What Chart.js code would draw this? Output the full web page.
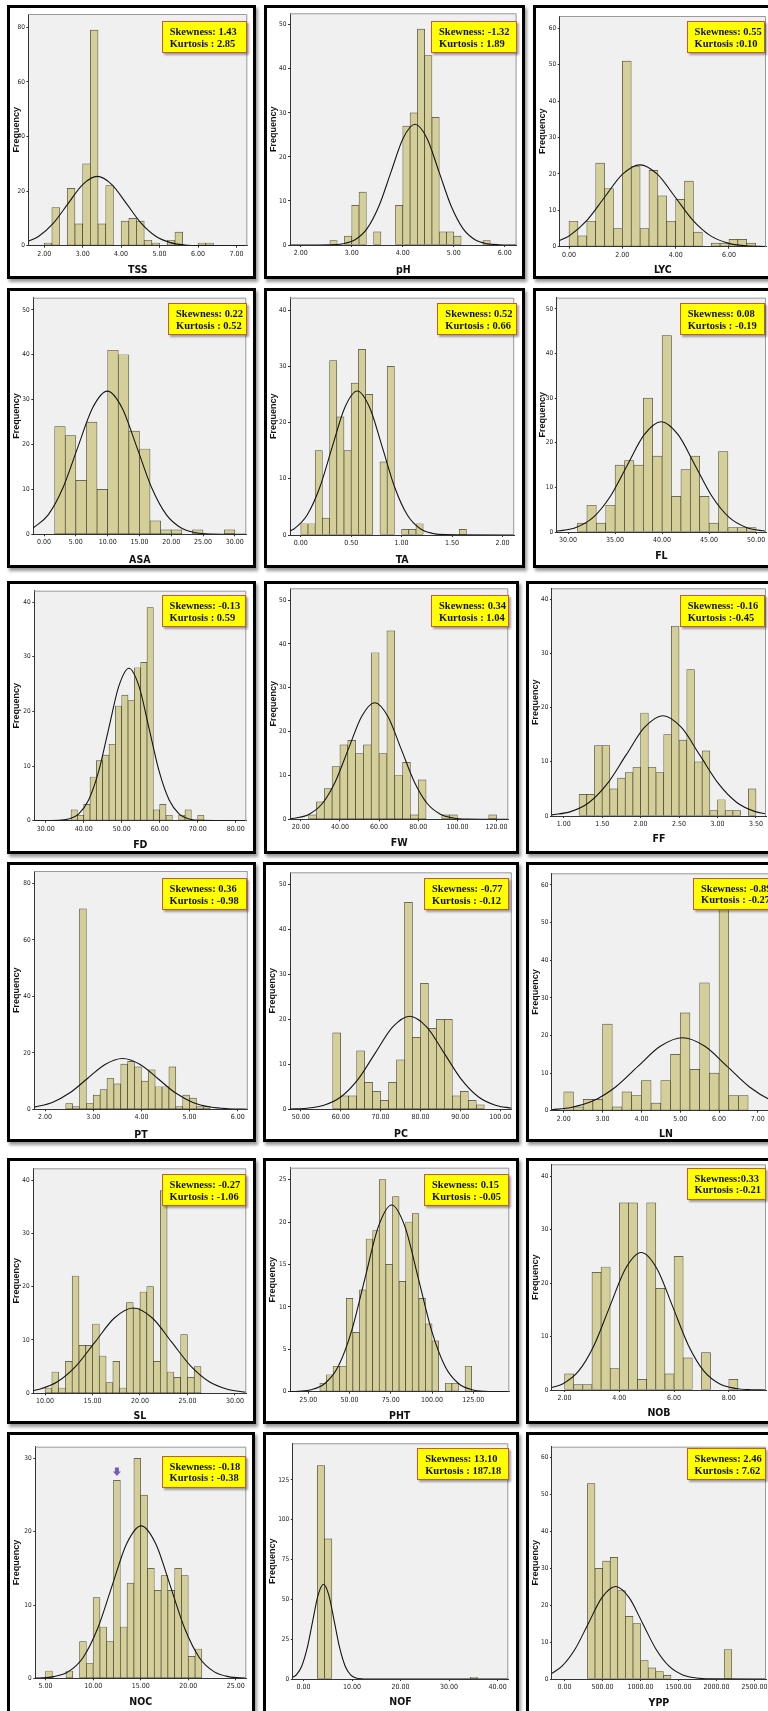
<!DOCTYPE html>
<html>
<head>
<meta charset="utf-8">
<script src="https://cdn.jsdelivr.net/npm/chart.js@4.4.0/dist/chart.umd.min.js"></script>
<style>
  html, body { margin: 0; padding: 0; background: #fff; width: 768px; height: 1711px; overflow: hidden; }
  #page { position: relative; width: 768px; height: 1711px; overflow: hidden; }
  .frame { position: absolute; box-sizing: border-box; border: 3px solid #000; background: #fff;
           box-shadow: 2px 3px 3px rgba(0,0,0,0.4); }
  .frame canvas { position: absolute; left: 0; top: 0; }
  .stat { position: absolute; box-sizing: border-box; height: 32px; background: #ffff00;
          border: 1.5px solid #c9573c; box-shadow: 1.5px 2px 2px rgba(0,0,0,0.35);
          padding: 4px 0 0 7px; font: bold 10.5px/11.6px "Liberation Serif", "Times New Roman", serif;
          color: #111; white-space: nowrap; overflow: hidden; z-index: 5; }
</style>
</head>
<body>
<div id="page"></div>
<script>
// variable names (x axis titles)
var names = ['TSS', 'pH', 'LYC', 'ASA', 'TA', 'FL', 'FD', 'FW', 'FF',
             'PT', 'PC', 'LN', 'SL', 'PHT', 'NOB', 'NOC', 'NOF', 'YPP'];

var skewText = ['Skewness: 1.43', 'Skewness: -1.32', 'Skewness: 0.55',
                'Skewness: 0.22', 'Skewness: 0.52', 'Skewness: 0.08',
                'Skewness: -0.13', 'Skewness: 0.34', 'Skewness: -0.16',
                'Skewness: 0.36', 'Skewness: -0.77', 'Skewness: -0.89',
                'Skewness: -0.27', 'Skewness: 0.15', 'Skewness:0.33',
                'Skewness: -0.18', 'Skewness: 13.10', 'Skewness: 2.46'];
var kurtText = ['Kurtosis : 2.85', 'Kurtosis : 1.89', 'Kurtosis :0.10',
                'Kurtosis : 0.52', 'Kurtosis : 0.66', 'Kurtosis : -0.19',
                'Kurtosis : 0.59', 'Kurtosis : 1.04', 'Kurtosis :-0.45',
                'Kurtosis : -0.98', 'Kurtosis : -0.12', 'Kurtosis : -0.27',
                'Kurtosis : -1.06', 'Kurtosis : -0.05', 'Kurtosis :-0.21',
                'Kurtosis : -0.38', 'Kurtosis : 187.18', 'Kurtosis : 7.62'];

// histogram bins: first bin edge, bin width, frequencies
var binStart = [2.0, 18 / 7, 0, 5 / 3, 0, 31, 110 / 3, 24, 1.2,
                17 / 7, 58, 2, 10, 32, 2, 5, 2.833, 300];
var binWidth = [0.2, 1 / 7, 1 / 3, 5 / 3, 1 / 14, 1, 5 / 3, 4, 0.1,
                1 / 7, 2, 0.25, 5 / 7, 4, 1 / 3, 5 / 7, 1.5, 100];

var countsTSS = [1, 14, 0, 21, 8, 30, 79, 8, 22, 0, 9, 10, 9, 2, 1, 0, 2, 5, 0, 0, 1, 1];
var countsPH  = [1, 0, 2, 9, 12, 0, 3, 0, 0, 9, 27, 30, 49, 43, 29, 3, 3, 2, 0, 0, 0, 1];
var countsLYC = [7, 3, 7, 23, 16, 5, 51, 22, 5, 21, 14, 7, 13, 18, 4, 0, 1, 1, 2, 2, 1];
var countsASA = [24, 22, 12, 25, 10, 41, 40, 23, 19, 3, 1, 1, 0, 1, 0, 0, 1];
var countsTA  = [2, 2, 15, 3, 31, 21, 15, 27, 33, 25, 0, 13, 30, 0, 1, 1, 2, 0, 0, 0, 0, 0, 1];
var countsFL  = [2, 6, 2, 6, 15, 16, 15, 30, 17, 44, 8, 14, 17, 8, 2, 18, 1, 1, 1];
var countsFD  = [2, 1, 3, 8, 11, 12, 14, 21, 23, 22, 28, 29, 39, 2, 3, 1, 0, 1, 2, 0, 1];
var countsFW  = [1, 4, 7, 12, 17, 18, 15, 17, 38, 15, 43, 10, 13, 1, 9, 0, 0, 1, 1, 0, 0, 0, 0, 1];
var countsFF  = [4, 4, 13, 13, 5, 7, 8, 9, 19, 9, 8, 15, 35, 14, 27, 10, 12, 1, 3, 1, 1, 0, 5];
var countsPT  = [2, 1, 71, 2, 5, 7, 11, 9, 16, 17, 15, 10, 14, 8, 8, 15, 1, 5, 4, 1, 1];
var countsPC  = [17, 3, 3, 13, 6, 4, 2, 6, 11, 46, 16, 28, 18, 20, 20, 3, 4, 2, 1];
var countsLN  = [5, 1, 3, 3, 23, 1, 5, 4, 8, 2, 8, 15, 26, 11, 34, 10, 56, 4, 4];
var countsSL  = [1, 4, 1, 6, 22, 9, 9, 13, 7, 2, 6, 1, 17, 16, 19, 20, 6, 38, 4, 3, 11, 3, 5];
var countsPHT = [1, 2, 3, 3, 11, 7, 12, 18, 19, 25, 15, 23, 13, 20, 21, 11, 8, 6, 0, 1, 1, 0, 3];
var countsNOB = [3, 1, 1, 22, 23, 4, 35, 35, 2, 35, 19, 3, 25, 6, 0, 7, 0, 0, 2];
var countsNOC = [1, 0, 0, 1, 0, 5, 2, 11, 7, 5, 27, 7, 13, 30, 25, 15, 12, 14, 12, 15, 14, 3, 4];
var countsNOF = [134, 88, 0, 0, 0, 0, 0, 0, 0, 0, 0, 0, 0, 0, 0, 0, 0, 0, 0, 0, 0, 1];
var countsYPP = [53, 30, 32, 33, 24, 17, 15, 5, 3, 2, 1, 0, 0, 0, 0, 0, 0, 0, 8];
var counts = [countsTSS, countsPH, countsLYC, countsASA, countsTA, countsFL, countsFD, countsFW, countsFF,
              countsPT, countsPC, countsLN, countsSL, countsPHT, countsNOB, countsNOC, countsNOF, countsYPP];

// normal curves
var curveX = [
  [1.59, 1.86, 2.24, 2.62, 3.00, 3.38, 3.76, 4.14, 4.52, 4.90, 5.28, 5.66, 6.04, 7.28],
  [1.79, 2.595, 2.83, 3.065, 3.30, 3.535, 3.77, 4.005, 4.24, 4.475, 4.71, 4.945, 5.18, 5.415, 5.65, 5.885, 6.23],
  [-0.35, 0.02, 0.68, 1.34, 2.00, 2.66, 3.32, 3.98, 4.64, 5.30, 5.96, 6.62, 7.39],
  [-1.69, 0.65, 2.975, 5.30, 7.625, 9.95, 12.275, 14.6, 16.925, 19.25, 21.575, 23.9, 26.225, 31.8],
  [-0.107, -0.065, 0.06, 0.185, 0.31, 0.435, 0.56, 0.685, 0.81, 0.935, 1.06, 1.185, 1.31, 1.435, 2.117],
  [28.8, 29.1, 30.9, 32.7, 34.5, 36.3, 38.1, 39.9, 41.7, 43.5, 45.3, 47.1, 48.9, 50.7, 51.05],
  [27.0, 33.35, 36.0, 38.65, 41.3, 43.95, 46.6, 49.25, 51.9, 54.55, 57.2, 59.85, 62.5, 65.15, 67.8, 70.45, 82.8],
  [14.5, 17.6, 24.3, 31.0, 37.7, 44.4, 51.1, 57.8, 64.5, 71.2, 77.9, 84.6, 91.3, 98.0, 104.7, 126],
  [0.847, 1.09, 1.33, 1.57, 1.81, 2.05, 2.29, 2.53, 2.77, 3.01, 3.25, 3.49, 3.63],
  [1.776, 2.15, 2.515, 2.88, 3.245, 3.61, 3.975, 4.34, 4.705, 5.07, 5.435, 5.80, 6.21],
  [47.3, 51.5, 55.8, 60.1, 64.4, 68.7, 73.0, 77.3, 81.6, 85.9, 90.2, 94.5, 98.8, 102.9],
  [1.695, 2.185, 2.76, 3.335, 3.91, 4.485, 5.06, 5.635, 6.21, 6.785, 7.36, 7.57],
  [8.76, 9.3, 11.3, 13.3, 15.3, 17.3, 19.3, 21.3, 23.3, 25.3, 27.3, 29.3, 31.2],
  [13.9, 18.8, 26.9, 35.0, 43.1, 51.2, 59.3, 67.4, 75.5, 83.6, 91.7, 99.8, 107.9, 116.0, 124.1, 132.2, 146.8],
  [1.536, 1.925, 2.50, 3.075, 3.65, 4.225, 4.80, 5.375, 5.95, 6.525, 7.10, 7.675, 8.25, 8.825, 9.36],
  [3.92, 4.34, 5.87, 7.4, 8.93, 10.46, 11.99, 13.52, 15.05, 16.58, 18.11, 19.64, 21.17, 22.7, 24.23, 26.1],
  [-2.22, -1.5, -0.38, 0.74, 1.86, 2.98, 4.1, 5.22, 6.34, 7.46, 8.58, 9.7, 10.82, 11.94, 13.06, 42.2],
  [-167, -38, 139, 316, 493, 670, 847, 1024, 1201, 1378, 1555, 1732, 1909, 2650]
];
var curveY = [
  [1.6, 3.44, 8.25, 15.4, 22.4, 25.4, 22.4, 15.4, 8.25, 3.44, 1.12, 0.28, 0.06, 0],
  [0, 0.06, 0.30, 1.20, 3.71, 8.9, 16.6, 24.2, 27.4, 24.2, 16.6, 8.9, 3.71, 1.20, 0.30, 0.06, 0],
  [1.67, 3.04, 7.31, 13.65, 19.86, 22.5, 19.86, 13.65, 7.31, 3.04, 0.99, 0.25, 0.04],
  [1.40, 4.32, 10.36, 19.35, 28.15, 31.9, 28.15, 19.35, 10.36, 4.32, 1.40, 0.35, 0.07, 0],
  [0.73, 1.12, 3.46, 8.31, 15.53, 22.59, 25.6, 22.59, 15.53, 8.31, 3.46, 1.12, 0.28, 0.06, 0],
  [0.21, 0.27, 1.08, 3.34, 8.02, 14.98, 21.8, 24.7, 21.8, 14.98, 8.02, 3.34, 1.08, 0.27, 0.2],
  [0, 0.06, 0.31, 1.22, 3.78, 9.06, 16.92, 24.62, 27.9, 24.62, 16.92, 9.06, 3.78, 1.22, 0.31, 0.06, 0],
  [0.14, 0.30, 1.17, 3.60, 8.64, 16.13, 23.47, 26.6, 23.47, 16.13, 8.64, 3.60, 1.17, 0.30, 0.06, 0],
  [0.2, 0.81, 2.50, 6.01, 11.22, 16.33, 18.5, 16.33, 11.22, 6.01, 2.50, 0.81, 0.38],
  [0.78, 2.44, 5.84, 10.92, 15.89, 18.0, 15.89, 10.92, 5.84, 2.44, 0.79, 0.20, 0.04],
  [0.05, 0.23, 0.91, 2.80, 6.72, 12.55, 18.27, 20.7, 18.27, 12.55, 6.72, 2.80, 0.91, 0.24],
  [0.27, 0.85, 2.62, 6.30, 11.77, 17.12, 19.4, 17.12, 11.77, 6.30, 2.62, 1.8],
  [0.5, 0.70, 2.16, 5.20, 9.70, 14.12, 16.0, 14.12, 9.70, 5.20, 2.16, 0.70, 0.19],
  [0, 0.05, 0.24, 0.97, 2.98, 7.14, 13.34, 19.42, 22, 19.42, 13.34, 7.14, 2.98, 0.97, 0.24, 0.05, 0],
  [0.46, 1.13, 3.48, 8.34, 15.59, 22.68, 25.7, 22.68, 15.59, 8.34, 3.48, 1.13, 0.29, 0.06, 0.01],
  [0.03, 0.05, 0.23, 0.91, 2.81, 6.75, 12.62, 18.36, 20.8, 18.36, 12.62, 6.75, 2.81, 0.91, 0.23, 0.03],
  [1.1, 2.61, 8.05, 19.32, 36.09, 52.51, 59.5, 52.51, 36.09, 19.32, 8.05, 2.61, 0.66, 0.13, 0.02, 0],
  [1.54, 3.40, 8.15, 15.22, 22.15, 25.1, 22.15, 15.22, 8.15, 3.40, 1.10, 0.28, 0.06, 0]
];

// axis ranges and tick labels
var xMin = [1.59, 1.79, -0.35, -1.69, -0.107, 28.8, 27.0, 14.5, 0.847,
            1.776, 47.3, 1.695, 8.76, 13.9, 1.536, 3.92, -2.22, -167];
var xMax = [7.28, 6.23, 7.39, 31.8, 2.117, 51.05, 82.8, 126, 3.63,
            6.21, 102.9, 7.57, 31.2, 146.8, 9.36, 26.1, 42.2, 2650];
var yMax = [84.9, 52.6, 63.4, 52.7, 42.2, 52.5, 42.1, 52.7, 42,
            84.4, 52.7, 63.1, 42.2, 26.4, 42.2, 31.6, 148, 63];
var xTicks = [
  [2, 3, 4, 5, 6, 7], [2, 3, 4, 5, 6], [0, 2, 4, 6],
  [0, 5, 10, 15, 20, 25, 30], [0, 0.5, 1, 1.5, 2], [30, 35, 40, 45, 50],
  [30, 40, 50, 60, 70, 80], [20, 40, 60, 80, 100, 120], [1, 1.5, 2, 2.5, 3, 3.5],
  [2, 3, 4, 5, 6], [50, 60, 70, 80, 90, 100], [2, 3, 4, 5, 6, 7],
  [10, 15, 20, 25, 30], [25, 50, 75, 100, 125], [2, 4, 6, 8],
  [5, 10, 15, 20, 25], [0, 10, 20, 30, 40], [0, 500, 1000, 1500, 2000, 2500]
];
var yTicks = [
  [0, 20, 40, 60, 80], [0, 10, 20, 30, 40, 50], [0, 10, 20, 30, 40, 50, 60],
  [0, 10, 20, 30, 40, 50], [0, 10, 20, 30, 40], [0, 10, 20, 30, 40, 50],
  [0, 10, 20, 30, 40], [0, 10, 20, 30, 40, 50], [0, 10, 20, 30, 40],
  [0, 20, 40, 60, 80], [0, 10, 20, 30, 40, 50], [0, 10, 20, 30, 40, 50, 60],
  [0, 10, 20, 30, 40], [0, 5, 10, 15, 20, 25], [0, 10, 20, 30, 40],
  [0, 10, 20, 30], [0, 25, 50, 75, 100, 125], [0, 10, 20, 30, 40, 50, 60]
];
// purple marker over the NOC histogram: [x, y] of its tip
var arrowAt = [12.5, 27.6];

// ---- layout (page pixels) ----
// outer frame [left, top, right, bottom]
var frames = [
  [7, 5, 256, 279], [264, 5, 525, 279], [533, 5, 795, 279],
  [7, 288, 256, 568], [264, 288, 525, 568], [533, 288, 795, 568],
  [7, 581, 256, 854], [264, 581, 519, 854], [526, 581, 795, 854],
  [7, 862, 256, 1142], [263, 862, 519, 1142], [526, 862, 795, 1142],
  [7, 1158, 256, 1424], [263, 1158, 519, 1424], [526, 1158, 795, 1424],
  [7, 1432, 255, 1716], [263, 1432, 519, 1716], [526, 1432, 795, 1716]
];
// plot area [left, top, right, bottom]
var plots = [
  [28.4, 14, 247.3, 245.7], [290, 13.3, 516.6, 245], [559.7, 16, 766, 246.7],
  [33.3, 297.7, 246.3, 534.3], [290, 297.7, 514.2, 535], [556.8, 297.7, 766, 532],
  [34.3, 590.7, 246.3, 820.7], [290, 588.3, 508.3, 819.3], [551.9, 588.3, 766, 816],
  [34.3, 871, 247.8, 1109.3], [290, 872.3, 511.8, 1109.3], [551.9, 873.3, 780, 1110.7],
  [33.3, 1168.3, 246.3, 1393.3], [290, 1167.7, 509.3, 1391.7], [551.9, 1164.3, 766, 1390],
  [35.3, 1446.7, 246.3, 1678.3], [292.8, 1443.3, 508.3, 1679], [551.9, 1446.7, 766, 1679]
];
// centre line of the x axis title
var xTitleY = [270, 270, 270.7, 560, 560, 556.7, 845, 843.3, 839.3,
               1135, 1134, 1134.3, 1416.7, 1416, 1413.3, 1702.7, 1702.7, 1703.3];
// stats box [left, top, width]
var boxes = [
  [161.7, 21, 85.6], [431, 21, 85.6], [686.6, 21, 78.4],
  [168, 303, 79.3], [437.3, 303, 79.3], [679.7, 303, 85.3],
  [161.6, 595, 84.7], [431, 595, 78.3], [679.7, 595, 85.3],
  [161.6, 878, 85.7], [424, 878, 85.3], [693, 877.5, 86],
  [161.6, 1174.3, 84.7], [424, 1174.3, 85.3], [686.6, 1167.7, 79.4],
  [161.6, 1455.7, 84.7], [417.2, 1448.3, 92.1], [686.6, 1448.3, 79.4]
];

var NARROW = '"Liberation Sans Narrow", "DejaVu Sans Condensed", "Arial Narrow", sans-serif';
var barFill = 'rgb(212, 207, 153)';
var barEdge = 'rgba(55, 55, 45, 0.9)';

// grey plot background plus light frame on top/right
var plotBg = {
  id: 'plotBg',
  beforeDraw: function(chart) {
    var a = chart.chartArea, ctx = chart.ctx;
    ctx.save();
    ctx.fillStyle = '#f0f0f0';
    ctx.fillRect(a.left, a.top, a.right - a.left, a.bottom - a.top);
    ctx.restore();
  },
  afterDraw: function(chart) {
    var a = chart.chartArea, ctx = chart.ctx;
    ctx.save();
    ctx.strokeStyle = '#9a9a9a';
    ctx.lineWidth = 1;
    ctx.beginPath();
    ctx.moveTo(a.left, a.top + 0.5);
    ctx.lineTo(a.right - 0.5, a.top + 0.5);
    ctx.lineTo(a.right - 0.5, a.bottom);
    ctx.stroke();
    ctx.restore();
  }
};

// small down arrow (only used on NOC)
var noteArrow = {
  id: 'noteArrow',
  afterDatasetsDraw: function(chart, args, opts) {
    if (!opts.at) return;
    var x = chart.scales.x.getPixelForValue(opts.at[0]);
    var y = chart.scales.y.getPixelForValue(opts.at[1]);
    var ctx = chart.ctx;
    ctx.save();
    ctx.fillStyle = '#7a5cb3';
    ctx.beginPath();
    ctx.moveTo(x, y);
    ctx.lineTo(x - 4, y - 4.5);
    ctx.lineTo(x - 2, y - 4.5);
    ctx.lineTo(x - 2, y - 8.5);
    ctx.lineTo(x + 2, y - 8.5);
    ctx.lineTo(x + 2, y - 4.5);
    ctx.lineTo(x + 4, y - 4.5);
    ctx.closePath();
    ctx.fill();
    ctx.restore();
  }
};

var page = document.getElementById('page');

names.forEach(function(name, i) {
  var f = frames[i], p = plots[i];
  var cl = f[0] + 3, ct = f[1] + 3, cr = f[2] - 3, cb = f[3] - 3;

  var div = document.createElement('div');
  div.className = 'frame';
  div.style.left = f[0] + 'px';
  div.style.top = f[1] + 'px';
  div.style.width = (f[2] - f[0]) + 'px';
  div.style.height = (f[3] - f[1]) + 'px';
  var canvas = document.createElement('canvas');
  canvas.width = cr - cl;
  canvas.height = cb - ct;
  div.appendChild(canvas);
  page.appendChild(div);

  var box = document.createElement('div');
  box.className = 'stat';
  box.style.left = boxes[i][0] + 'px';
  box.style.top = boxes[i][1] + 'px';
  box.style.width = boxes[i][2] + 'px';
  var l1 = document.createElement('div'); l1.textContent = skewText[i];
  var l2 = document.createElement('div'); l2.textContent = kurtText[i];
  box.appendChild(l1); box.appendChild(l2);
  page.appendChild(box);

  var bars = counts[i].map(function(c, j) {
    return { x: binStart[i] + (j + 0.5) * binWidth[i], y: c };
  });
  var curve = curveX[i].map(function(x, j) { return { x: x, y: curveY[i][j] }; });

  new Chart(canvas, {
    type: 'bar',
    data: {
      datasets: [{
        type: 'line',
        data: curve,
        borderColor: '#151515',
        borderWidth: 1.1,
        pointRadius: 0,
        fill: false,
        cubicInterpolationMode: 'monotone',
        order: 0
      }, {
        type: 'bar',
        data: bars,
        backgroundColor: barFill,
        borderColor: barEdge,
        borderWidth: 0.7,
        borderSkipped: false,
        barPercentage: 1,
        categoryPercentage: 1,
        order: 1
      }]
    },
    options: {
      responsive: false,
      animation: false,
      events: [],
      layout: { padding: { top: p[1] - ct, right: cr - p[2], left: 0, bottom: 0 } },
      plugins: {
        legend: { display: false },
        tooltip: { enabled: false },
        noteArrow: { at: name === 'NOC' ? arrowAt : null }
      },
      scales: {
        x: {
          type: 'linear',
          min: xMin[i],
          max: xMax[i],
          offset: false,
          grid: { offset: false, drawOnChartArea: false, drawTicks: true, tickLength: 2, color: '#333' },
          border: { display: true, color: '#333', width: 1 },
          ticks: {
            font: { family: NARROW, size: 7 },
            color: '#222',
            padding: 2,
            maxRotation: 0,
            autoSkip: false,
            callback: function(v) { return Number(v).toFixed(2); }
          },
          title: {
            display: true,
            text: name,
            color: '#111',
            font: { family: NARROW, size: 10.5, weight: 'bold', lineHeight: 1 },
            padding: { top: 0, bottom: cb - xTitleY[i] - 5.25 }
          },
          afterBuildTicks: function(s) { s.ticks = xTicks[i].map(function(v) { return { value: v }; }); },
          afterFit: function(s) { s.height = cb - p[3]; s.paddingLeft = 0; s.paddingRight = 0; }
        },
        y: {
          type: 'linear',
          min: 0,
          max: yMax[i],
          grid: { drawOnChartArea: false, drawTicks: true, tickLength: 2, color: '#333' },
          border: { display: true, color: '#333', width: 1 },
          ticks: {
            font: { family: NARROW, size: 6.5 },
            color: '#222',
            padding: 1.5,
            callback: function(v) { return String(v); }
          },
          title: {
            display: true,
            text: 'Frequency',
            color: '#111',
            font: { family: '"Liberation Sans", Arial, sans-serif', size: 9, weight: 'bold', lineHeight: 1 },
            padding: { top: 2, bottom: 0 }
          },
          afterBuildTicks: function(s) { s.ticks = yTicks[i].map(function(v) { return { value: v }; }); },
          afterFit: function(s) { s.width = p[0] - cl; s.paddingTop = 0; s.paddingBottom = 0; }
        }
      }
    },
    plugins: [plotBg, noteArrow]
  });
});
</script>
</body>
</html>
